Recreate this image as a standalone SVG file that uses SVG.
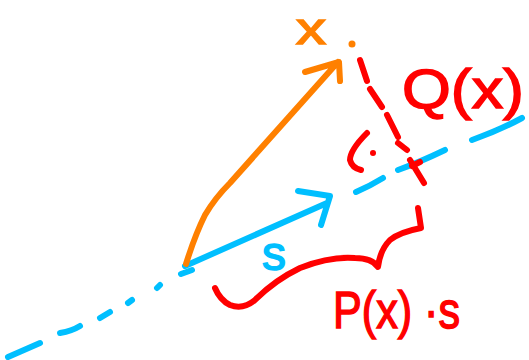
<svg xmlns="http://www.w3.org/2000/svg" width="529" height="360" viewBox="0 0 529 360">
<style>
.s{fill:none;stroke-width:6;stroke-linecap:round;stroke-linejoin:round}
.o{stroke:#ff8000}
.b{stroke:#00bfff}
.r{stroke:#ff0000}
.t{font-family:"Liberation Sans",Arial,sans-serif;stroke-width:1.5}
</style>
<rect width="529" height="360" fill="#ffffff"/>
<g id="connectors">
  <g id="line-dashed">
    <path class="s b" d="M8 357 L40 343 M60 333 Q72 331 80 326 M100 318 L110 312 M128 303 L132 300 M157 288 L160 285 M356 192 Q370 186 383 178 M398 170 Q420 162 445 150 M472 140 Q500 130 522 118"/>
  </g>
  <g id="vector-s">
    <path class="s b" d="M181 274 L192 270 M185 266 L327 203 M298 191 L330 196 L321 225"/>
  </g>
  <g id="vector-x">
    <path class="s o" d="M186 264 Q195 235 205 215 Q215 198 230 183 L338 62 M305 72 L339 62 L340 81"/>
  </g>
  <g id="projection-dashed">
    <path class="s r" d="M360 60 L367 81 M370 89 L382 107 M387 115 L398 137 M398 143 L407 150 M410 160 L424 183 M412 166 L420 162"/>
  </g>
  <g id="right-angle">
    <path class="s r" d="M367 133 Q350 150 350 160 Q352 168 361 170"/>
    <circle cx="373" cy="153" r="3" fill="#ff0000"/>
  </g>
  <g id="brace">
    <path class="s r" d="M418 208 L421 228 Q400 232 390 240 Q380 250 378 267 Q372 258 355 258 Q330 256 300 268 Q275 280 255 300 Q243 310 230 305 Q220 300 215 288"/>
  </g>
</g>
<g id="point-x">
  <text class="t" x="296" y="44" font-size="44" fill="#ff8000" stroke="#ff8000" textLength="30" lengthAdjust="spacingAndGlyphs">x</text>
  <circle cx="352" cy="44" r="3.5" fill="#ff8000"/>
</g>
<g id="label-Q">
  <text class="t" x="402" y="108" font-size="56" fill="#ff0000" stroke="#ff0000" textLength="122" lengthAdjust="spacingAndGlyphs">Q(x)</text>
</g>
<g id="label-s">
  <text class="t" x="262" y="270" font-size="48" fill="#00bfff" stroke="#00bfff">s</text>
</g>
<g id="label-P">
  <text class="t" x="333" y="328" font-size="52" fill="#ff0000" stroke="#ff0000" textLength="127" lengthAdjust="spacingAndGlyphs">P(x) ·s</text>
</g>
</svg>
